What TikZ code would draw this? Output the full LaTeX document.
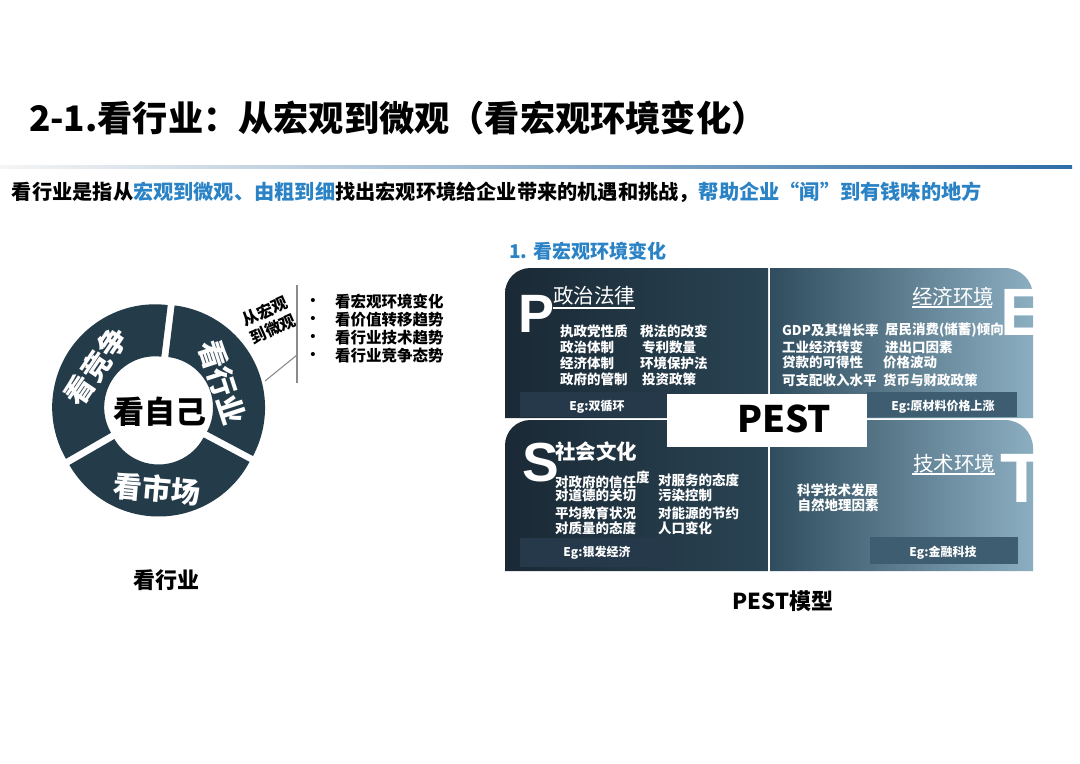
\documentclass[tikz,border=0pt]{standalone}
\usepackage{fontspec}
\setmainfont{Noto Sans CJK SC}
\newfontfamily\lat{Liberation Sans}
\newcommand\fsz[1]{\fontsize{\fpeval{0.75*#1}pt}{\fpeval{0.9*#1}pt}\selectfont}
\definecolor{ringc}{HTML}{243B4A}
\definecolor{hblue}{HTML}{2B83C6}
\definecolor{rulec}{HTML}{2E6DA6}
\definecolor{pL}{HTML}{1A2935}
\definecolor{pR}{HTML}{2A4453}
\definecolor{eL}{HTML}{2F4D5E}
\definecolor{eR}{HTML}{8CAEC1}
\definecolor{egP}{HTML}{26394A}
\definecolor{egE}{HTML}{3E5D70}
\definecolor{lineg}{HTML}{8A8A8A}
\begin{document}
\begin{tikzpicture}[x=0.75pt,y=-0.75pt,
  every node/.style={inner sep=0pt,outer sep=0pt},
  wt/.style={text=white,font=\fsz{13.5}\bfseries,anchor=west},
  egtxt/.style={text=white,font=\fsz{12}\bfseries},
  head/.style={text=white,font=\fsz{20.5}},
  big/.style={text=white,anchor=base west},
  ringtxt/.style={text=white,font=\fsz{29}\bfseries},
  blt/.style={font=\fsz{15.5}\bfseries,anchor=west},
  uline/.style={white,line width=1.1pt}]
\useasboundingbox (0,0) rectangle (1080,763);
\fill[white] (0,0) rectangle (1080,763);

% title and subtitle
\node[anchor=west,font=\fsz{35.2}\bfseries] (title) at (29,118) {2-1.看行业：从宏观到微观（看宏观环境变化）};
\shade[left color=gray!8,right color=rulec] (0,165.5) rectangle (1072,168.5);
\node[anchor=west,font=\fsz{20.2}\bfseries] (sub) at (12,192) {看行业是指从\textcolor{hblue}{宏观到微观、由粗到细}找出宏观环境给企业带来的机遇和挑战，\textcolor{hblue}{帮助企业“闻”到有钱味的地方}};

% ring
\begin{scope}[shift={(158.5,409.5)},y=0.75pt]
  \foreach \a/\b in {-28/83,83/210,210/332}{
    \fill[ringc,shift={({(\a+\b)/2}:4)}] (\a:103) arc[start angle=\a,end angle=\b,radius=103]
      -- (\b:51) arc[start angle=\b,end angle=\a,radius=51] -- cycle;
  }
\end{scope}
\node[font=\fsz{31}\bfseries] (self) at (160,412) {看自己};
\node[ringtxt,rotate=-72] (lbhy) at (222,382) {看行业};
\node[ringtxt,rotate=56] (lbjz) at (96,366) {看竞争};
\node[ringtxt,rotate=-5] (lbsc) at (157,489) {看市场};
\node[font=\fsz{16}\bfseries,align=center,rotate=24] (macro) at (269,320) {\fontsize{12pt}{16.3pt}\selectfont 从宏观\\到微观};

\coordinate (vt) at (297,285);
\coordinate (vb) at (297,383);
\coordinate (ds) at (265,381);
\coordinate (de) at (297,355);
\draw[lineg,line width=0.8pt] (vt) -- (vb);
\draw[lineg,line width=0.8pt] (ds) -- (de);

\foreach \t [count=\i] in {看宏观环境变化,看价值转移趋势,看行业技术趋势,看行业竞争态势}{
  \node[font=\lat\fsz{15}] (b\i) at (313,{284+18*\i}) {•};
  \node[blt] (l\i) at (335,{284+18*\i}) {\t};
}
\node[font=\fsz{22}\bfseries] (capA) at (166,580) {看行业};

% PEST
\node[anchor=west,font=\fsz{19}\bfseries,text=hblue] (pesthead) at (509,251) {1. 看宏观环境变化};
\shade[left color=pL,right color=pR] (505,418) [rounded corners=19pt] -- (505,268) [sharp corners] -- (768,268) -- (768,418) -- cycle;
\shade[left color=eL,right color=eR] (770,418) -- (770,268) [rounded corners=21pt] -- (1033,268) [sharp corners] -- (1033,418) -- cycle;
\shade[left color=pL,right color=pR] (505,571) [rounded corners=19pt] -- (505,420) [sharp corners] -- (768,420) -- (768,571) -- cycle;
\shade[left color=eL,right color=eR] (770,571) -- (770,420) [rounded corners=21pt] -- (1033,420) [sharp corners] -- (1033,571) -- cycle;

\fill[egP] (520,392) rectangle (667,417);
\fill[egE] (867,392) rectangle (1017,417);
\fill[egP] (520,538) rectangle (667,567);
\fill[egE] (870,537) rectangle (1018,564);

\node[fill=white,minimum width=150pt,minimum height=39.75pt] (pestbox) at (767,420.5) {};
\node[font=\fsz{36.5}\bfseries] (pest) at (784,419) {PEST};

% big letters
\node[big,font=\lat\bfseries\fsz{54}] (P) at (518,332) {P};
\node[big,font=\lat\bfseries\fsz{67}] (E) at (1000,335) {E};
\node[big,font=\lat\bfseries\fsz{55}] (S) at (522,481) {S};
\node[big,font=\lat\bfseries\fsz{70}] (T) at (1000,502) {T};

% headings
\node[head,anchor=west] (hP) at (553,295.5) {政治法律};
\draw[uline] (553,308) -- (635,308);
\node[head,anchor=west] (hE) at (912,296.5) {经济环境};
\draw[uline] (912,307) -- (992,307);
\node[head,anchor=west,font=\fsz{20.5}\bfseries] (hS) at (555,451.5) {社会文化};
\node[head,anchor=west] (hT) at (913,463.5) {技术环境};
\draw[uline] (912,474) -- (995,474);

% P body
\node[wt] (p1) at (560,331) {执政党性质};
\node[wt] (p2) at (560,347) {政治体制};
\node[wt] (p3) at (560,363) {经济体制};
\node[wt] (p4) at (560,379) {政府的管制};
\node[wt] (p5) at (640,331) {税法的改变};
\node[wt] (p6) at (642,347) {专利数量};
\node[wt] (p7) at (640,363) {环境保护法};
\node[wt] (p8) at (642,379) {投资政策};
% E body
\node[wt] (e1) at (782,330) {GDP及其增长率};
\node[wt] (e2) at (782,347) {工业经济转变};
\node[wt] (e3) at (782,362) {贷款的可得性};
\node[wt] (e4) at (782,380) {可支配收入水平};
\node[wt] (e5) at (885,330) {居民消费(储蓄)倾向};
\node[wt] (e6) at (885,347) {进出口因素};
\node[wt] (e7) at (883,362) {价格波动};
\node[wt] (e8) at (883,380) {货币与财政政策};
% S body
\node[wt] (s1) at (555,480) {对政府的信任\raisebox{4pt}{度}};
\node[wt] (s2) at (555,495) {对道德的关切};
\node[wt] (s3) at (555,513) {平均教育状况};
\node[wt] (s4) at (555,528) {对质量的态度};
\node[wt] (s5) at (658,480) {对服务的态度};
\node[wt] (s6) at (658,495) {污染控制};
\node[wt] (s7) at (658,513) {对能源的节约};
\node[wt] (s8) at (658,528) {人口变化};
% T body
\node[wt,anchor=center] (t1) at (837.5,490) {科学技术发展};
\node[wt,anchor=center] (t2) at (838,505.5) {自然地理因素};

% Eg labels
\node[egtxt] (egp) at (597,407) {Eg:双循环};
\node[egtxt] (ege) at (943,407) {Eg:原材料价格上涨};
\node[egtxt] (egs) at (597,553) {Eg:银发经济};
\node[egtxt] (egt) at (943,552.5) {Eg:金融科技};

\node[font=\fsz{22}\bfseries] (capB) at (783,601) {PEST模型};
\end{tikzpicture}
\end{document}
